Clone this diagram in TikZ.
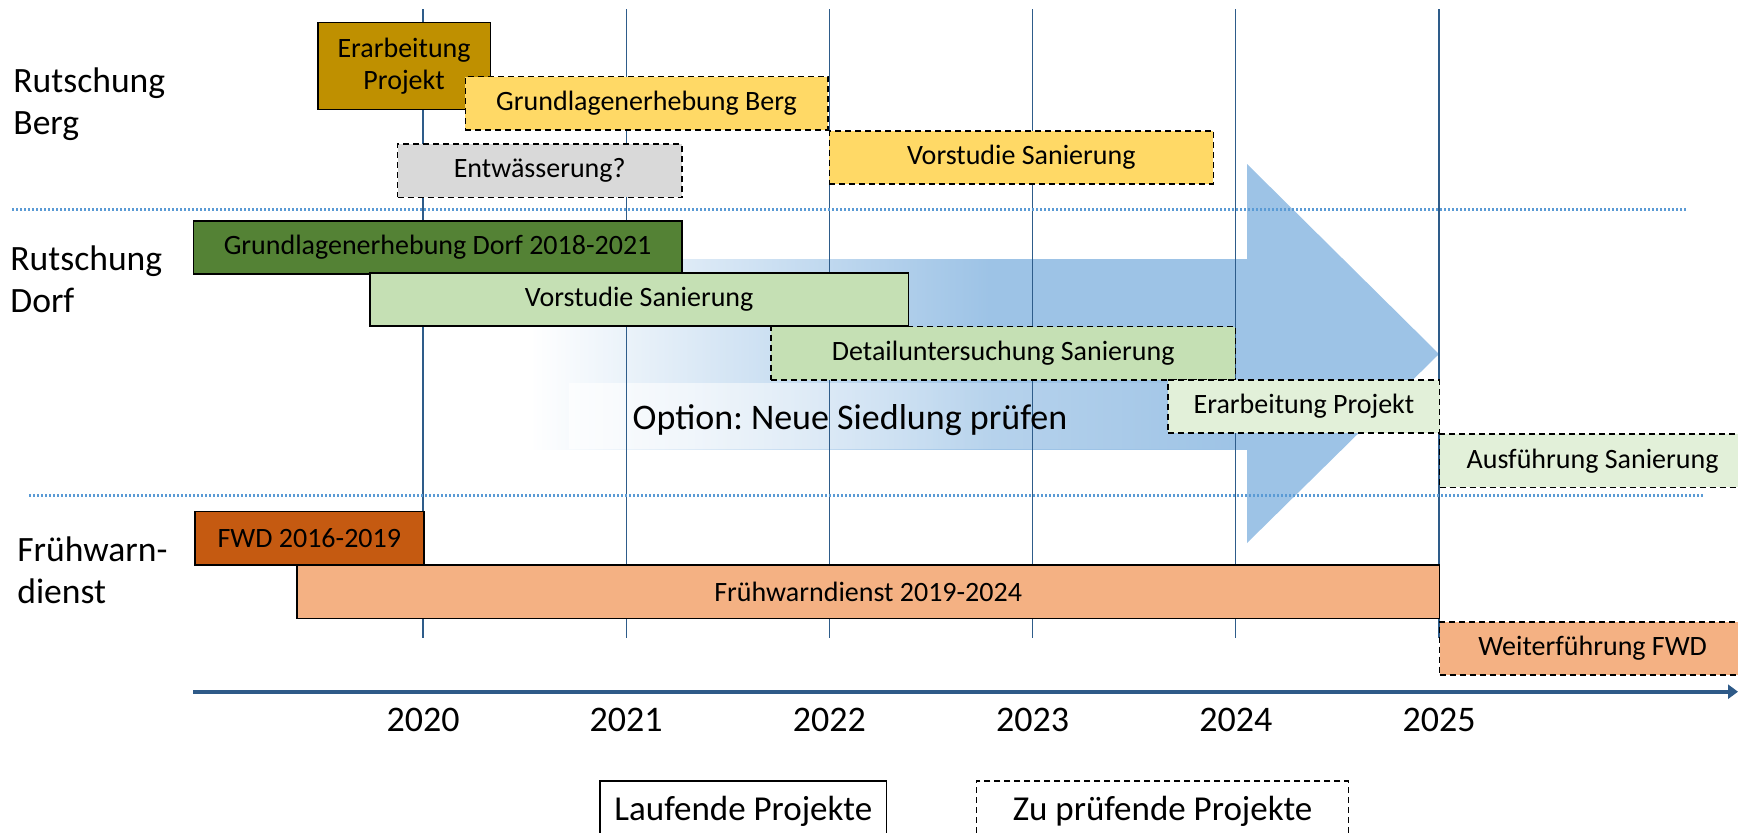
\documentclass[tikz,border=0pt]{standalone}
\usepackage{fontspec}
\setmainfont{Carlito}
\usetikzlibrary{arrows.meta,fadings}
\definecolor{goldbar}{HTML}{BF9000}
\definecolor{yellowbar}{HTML}{FFD966}
\definecolor{greybar}{HTML}{D9D9D9}
\definecolor{darkgreen}{HTML}{548235}
\definecolor{midgreen}{HTML}{C5E0B4}
\definecolor{palegreen}{HTML}{E2F0D9}
\definecolor{rust}{HTML}{C55A11}
\definecolor{peach}{HTML}{F4B183}
\definecolor{arrowblue}{HTML}{9DC3E6}
\definecolor{sepblue}{HTML}{5B9BD5}
\definecolor{gridblue}{HTML}{2E5C8A}
\definecolor{axisblue}{HTML}{2E5A88}
\pgfdeclarehorizontalshading{shaftfade}{100bp}{color(0bp)=(white); color(25bp)=(white);
  color(57bp)=(arrowblue); color(100bp)=(arrowblue)}
\frenchspacing

\begin{document}
\begin{tikzpicture}[x=0.5pt,y=-0.5pt,
  big/.style={font=\fontsize{17.8}{21}\selectfont, inner sep=0pt},
  sep/.style={sepblue, line width=1.5pt, dash pattern=on 1pt off 1pt},
  legendbox/.style={big, font=\fontsize{17.5}{20}\selectfont, draw=black, line width=0.8pt, minimum height=30pt}]
\clip (0,0) rectangle (1738,832);

% big arrow in the background
\shade[shading=shaftfade] (530,259) rectangle (1248,449);
\fill[arrowblue] (1246,259) -- (1247,259) -- (1247,164) -- (1439,354)
  -- (1247,543) -- (1247,449) -- (1246,449) -- cycle;
\fill[white, opacity=0.7, path fading=east] (569,383) rectangle (1247,449);

% years and grid
\coordinate (gtop) at (0,9);
\coordinate (gbot) at (0,638);
\foreach \yr [count=\i from 0] in {2020,...,2025}
  \node[big, font=\fontsize{18}{20}\selectfont] (y\yr) at (423+203.2*\i,720) {\yr};
\foreach \yr in {2020,...,2025}
  \draw[gridblue, line width=0.55pt] (y\yr |- gtop) -- (y\yr |- gbot);

\node[big, font=\fontsize{18}{20}\selectfont, anchor=base] (option) at (850,429) {Option: Neue Siedlung prüfen};

% separators
\coordinate (s1a) at (12,209);
\coordinate (s1b) at (1687,209);
\coordinate (s2a) at (29,495);
\coordinate (s2b) at (1704,495);
\draw[sep] (s1a) -- (s1b);
\draw[sep] (s2a) -- (s2b);

% left labels
\node[big, align=left, anchor=west] (berg) at (13,104) {Rutschung\\Berg};
\node[big, align=left, anchor=west] (dorf) at (10,279) {Rutschung\\Dorf};
\node[big, align=left, anchor=west] (fwdlabel) at (17,570) {Frühwarn-\\dienst};

% running projects
\begin{scope}[every node/.style={draw=black, line width=0.8pt, inner sep=0pt,
    minimum height=26.65pt, anchor=north west, align=center,
    font=\fontsize{14}{16}\selectfont}]
  \node[fill=goldbar, minimum width=86.25pt, minimum height=43.5pt] (bproj) at (317,21.7) {Erarbeitung\\Projekt};
  \node[fill=darkgreen, minimum width=244.2pt] (dgrund) at (192.6,220) {Grundlagenerhebung Dorf 2018-2021};
  \node[fill=midgreen, minimum width=269.35pt] (dvor) at (369,272) {Vorstudie Sanierung};
  \node[fill=rust, minimum width=114.5pt] (fwdold) at (194,510.7) {FWD 2016-2019};
  \node[fill=peach, minimum width=571.4pt] (fwd) at (296,564.3) {Frühwarndienst 2019-2024};
\end{scope}

% projects to be checked
\begin{scope}[every node/.style={draw=black, line width=0.8pt, inner sep=0pt,
    dash pattern=on 3pt off 2pt, minimum height=26.65pt, anchor=north west,
    font=\fontsize{14}{16}\selectfont}]
  \node[fill=yellowbar, minimum width=181.25pt] (bgrund) at (464.5,75.7) {Grundlagenerhebung Berg};
  \node[fill=greybar, minimum width=142.1pt] (bentw) at (396.8,143.3) {Entwässerung?};
  \node[fill=yellowbar, minimum width=192pt] (bvor) at (828.5,130) {Vorstudie Sanierung};
  \node[fill=midgreen, minimum width=232.15pt] (ddetail) at (770.3,325.7) {Detailuntersuchung Sanierung};
  \node[fill=palegreen, minimum width=135.7pt] (dproj) at (1167.4,379) {Erarbeitung Projekt};
  \node[fill=palegreen, minimum width=153pt] (dausf) at (1438.8,433.3) {Ausführung Sanierung};
  \node[fill=peach, minimum width=153pt] (fwdnext) at (1438.8,621) {Weiterführung FWD};
\end{scope}

% time axis
\coordinate (axstart) at (193,691.7);
\coordinate (axend) at (1738,691.7);
\draw[axisblue, line width=2pt, -{Triangle[length=5pt,width=7pt]}] (axstart) -- (axend);

% legend
\node[legendbox, minimum width=143.3pt] (running) at (743.3,811) {Laufende Projekte};
\node[legendbox, minimum width=185.95pt, dash pattern=on 3pt off 2pt] (tocheck) at (1162.5,811) {Zu prüfende Projekte};
\end{tikzpicture}
\end{document}
